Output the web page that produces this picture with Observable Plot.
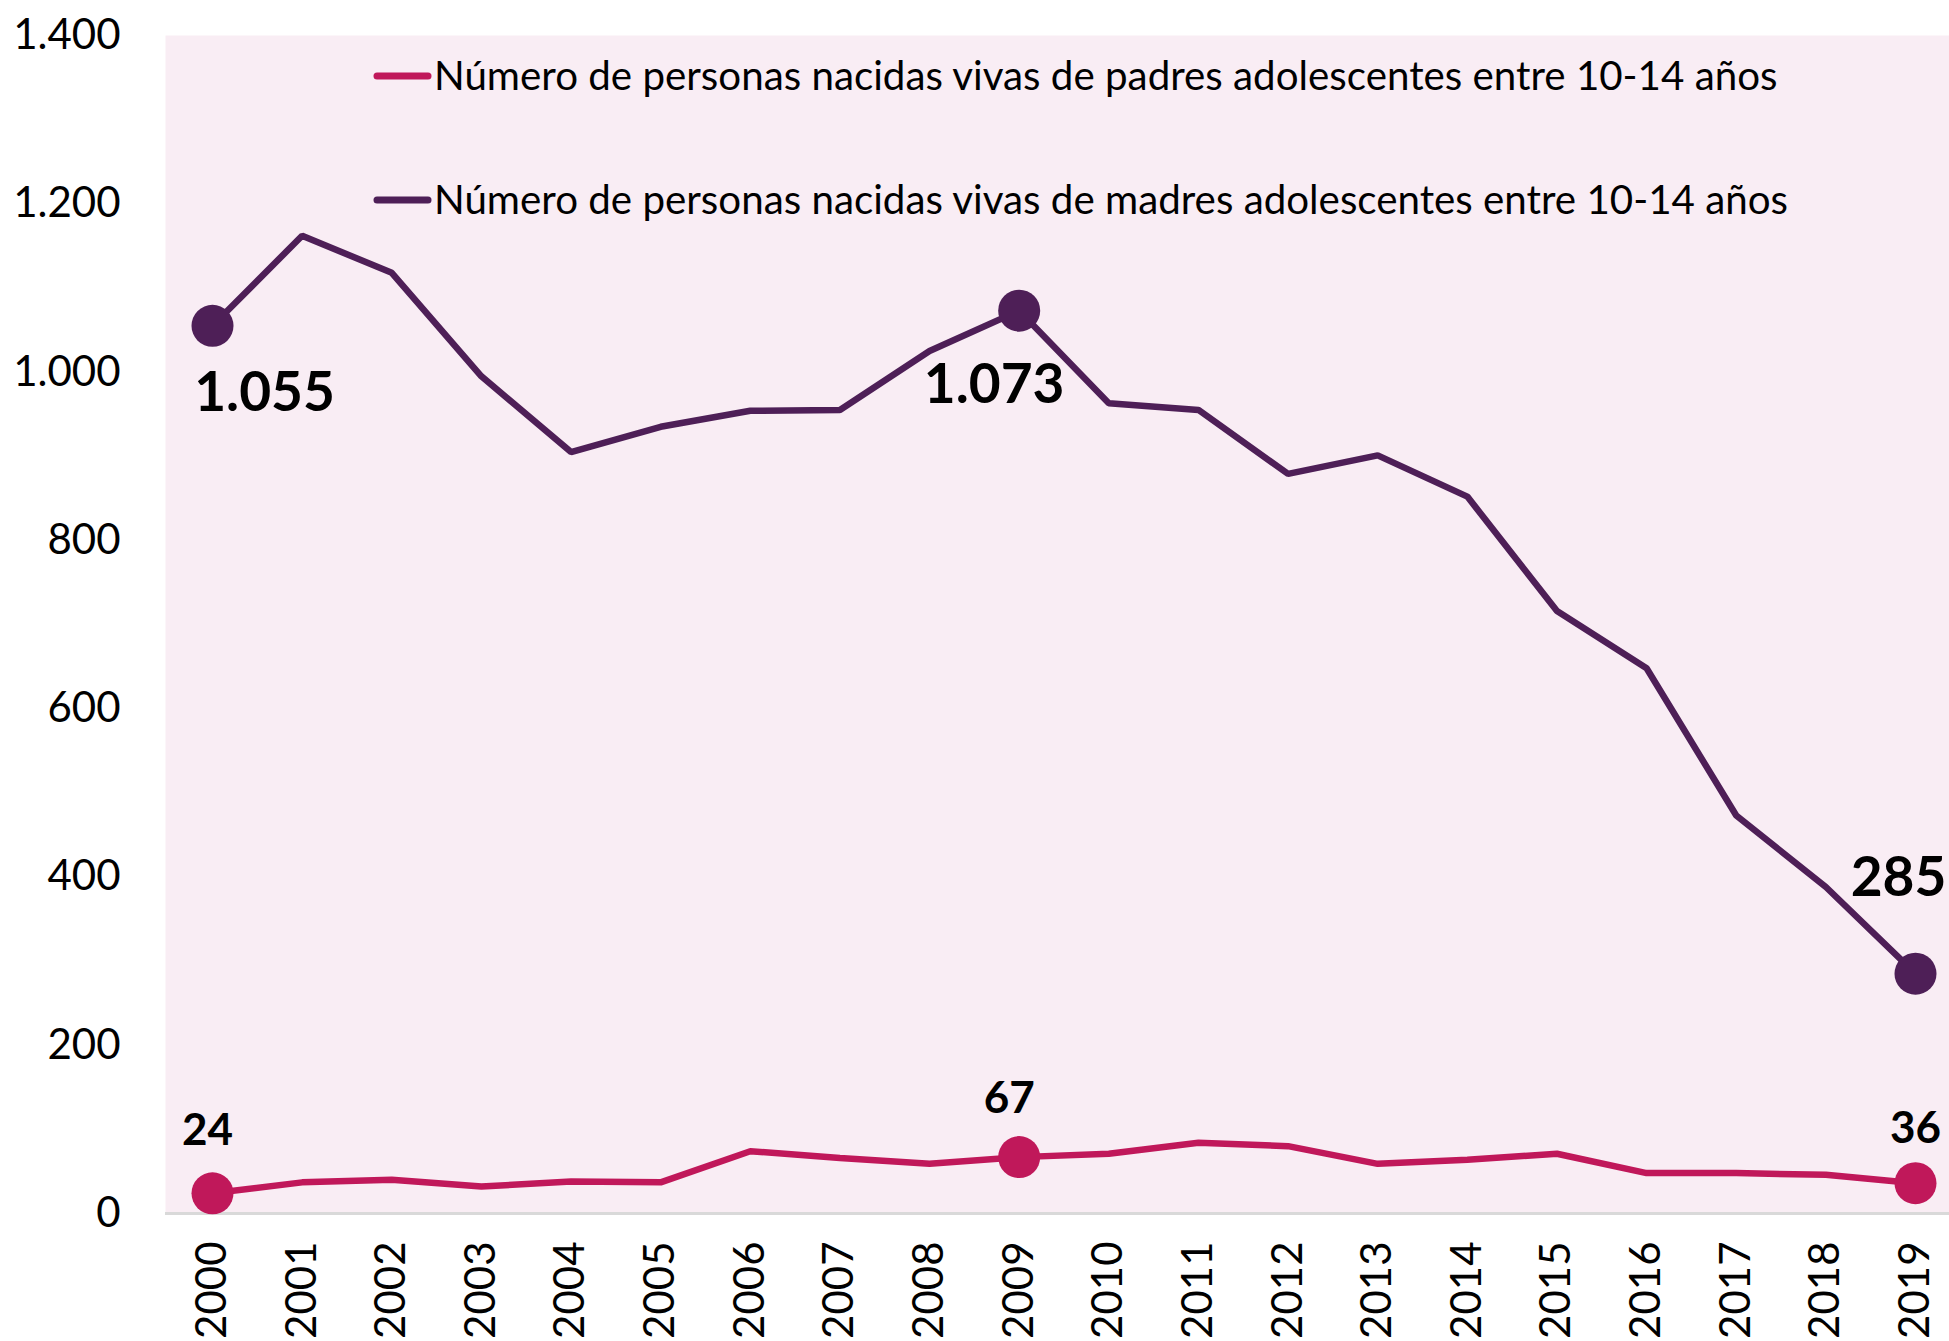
<!DOCTYPE html>
<html><head><meta charset="utf-8">
<script src="https://cdn.jsdelivr.net/npm/d3@7"></script>
<script src="https://cdn.jsdelivr.net/npm/@observablehq/plot@0.6"></script>
<style>
html,body{margin:0;padding:0;background:#fff;}
#chart{position:relative;width:1949px;height:1341px;overflow:hidden;}
</style></head><body><div id="chart"></div>
<script>
const years = [2000,2001,2002,2003,2004,2005,2006,2007,2008,2009,2010,2011,2012,2013,2014,2015,2016,2017,2018,2019];
const madres = [1055,1162,1118,995,905,935,954,955,1025,1073,963,955,879,901,852,716,648,473,388,285];
const padres = [24,37,40,32,38,37,74,66,59,67,71,84,80,59,64,71,48,48,46,36];
const seriesNames = [
  "Número de personas nacidas vivas de padres adolescentes entre 10-14 años",
  "Número de personas nacidas vivas de madres adolescentes entre 10-14 años"
];
const seriesColors = ["#C0185A", "#4E1F57"];
const yTicks = [0,200,400,600,800,1000,1200,1400];
const highlightYears = [2000,2009,2019];

const FONT = "Lato, sans-serif";
const fmt = d3.formatLocale({decimal:",", thousands:".", grouping:[3], currency:["",""]}).format(",d");

const rows = years.flatMap((yr,i)=>[
  {year:yr, value:padres[i], serie:seriesNames[0]},
  {year:yr, value:madres[i], serie:seriesNames[1]}
]);
const pick = (serie, yr) => rows.filter(d => d.serie === serie && d.year === yr);

const labelStyle = {x:"year", y:"value", text:d=>fmt(d.value), fontSize:55, fontWeight:"bold", fill:"#000"};

const chart = Plot.plot({
  width:1949, height:1341,
  marginLeft:165, marginRight:0, marginTop:35, marginBottom:128,
  style:{fontFamily:FONT, background:"transparent", color:"#000"},
  x:{type:"linear", domain:[2000,2019], insetLeft:47, insetRight:34},
  y:{domain:[0,1400]},
  color:{domain:seriesNames, range:seriesColors},
  marks:[
    Plot.frame({fill:"#F9EDF4", stroke:null}),
    Plot.ruleY([0], {stroke:"#D9D9D9", strokeWidth:3}),
    Plot.axisX(years, {tickRotate:-90, tickSize:0, tickPadding:28, fontSize:42, tickFormat:d=>String(d), label:null}),
    Plot.axisY(yTicks, {tickSize:0, tickPadding:45, fontSize:42, tickFormat:fmt, label:null}),
    Plot.line(rows, {x:"year", y:"value", z:"serie", stroke:"serie", strokeWidth:6.5, strokeLinejoin:"miter"}),
    Plot.dot(rows.filter(d=>highlightYears.includes(d.year)), {x:"year", y:"value", fill:"serie", r:21}),
    Plot.text(pick(seriesNames[1],2000), {...labelStyle, dx:52, dy:68}),
    Plot.text(pick(seriesNames[1],2009), {...labelStyle, dx:-25, dy:75}),
    Plot.text(pick(seriesNames[1],2019), {...labelStyle, dx:-17, dy:-95}),
    Plot.text(pick(seriesNames[0],2000), {...labelStyle, fontSize:44, dx:-5, dy:-62}),
    Plot.text(pick(seriesNames[0],2009), {...labelStyle, fontSize:44, dx:-10, dy:-58}),
    Plot.text(pick(seriesNames[0],2019), {...labelStyle, fontSize:44, dx:0, dy:-54})
  ]
});

// legend inside the plot area
const svg = d3.select(chart);
const legendY = [76, 200];
seriesNames.forEach((name, i) => {
  const g = svg.append("g").attr("transform", `translate(0,${legendY[i]})`);
  g.append("line").attr("x1",377).attr("x2",428).attr("y1",0).attr("y2",0)
    .attr("stroke", seriesColors[i]).attr("stroke-width",7).attr("stroke-linecap","round");
  g.append("text").attr("x",434).attr("y",0).attr("dy","0.35em")
    .attr("text-anchor","start")
    .attr("font-size",40.3).attr("font-family",FONT).attr("fill","#000").text(name);
});
document.getElementById("chart").appendChild(chart);
</script></body></html>
